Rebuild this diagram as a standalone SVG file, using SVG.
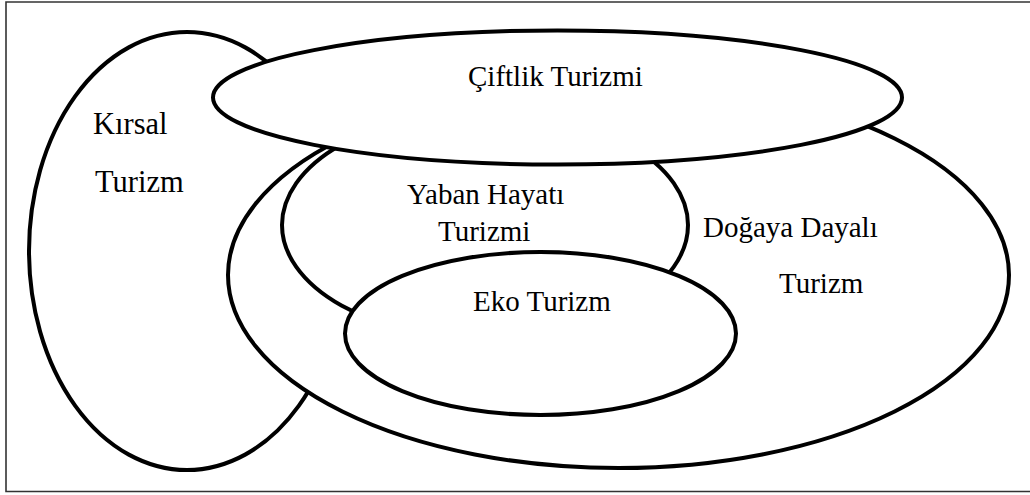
<svg xmlns="http://www.w3.org/2000/svg" width="1030" height="495" viewBox="0 0 1030 495">
<style>
.e{fill:#fff;stroke:#000;stroke-width:4}
.t{font-family:"Liberation Serif","Times New Roman",serif;font-size:29px;fill:#000}
.k{font-size:30.5px}
</style>
<rect width="1030" height="495" fill="#fff"/>
<path d="M1030,2 H6 V491.5 H1030" fill="none" stroke="#333" stroke-width="1.6"/>
<g id="kirsal">
<ellipse class="e" cx="187" cy="251" rx="158" ry="219"/>
<text class="t k" x="93" y="134">Kırsal</text>
<text class="t k" x="95" y="192">Turizm</text>
</g>
<g id="dogaya">
<ellipse class="e" cx="618.5" cy="275" rx="390.5" ry="193"/>
<text class="t" x="703" y="237">Doğaya Dayalı</text>
<text class="t" x="779" y="293">Turizm</text>
</g>
<g id="yaban">
<ellipse class="e" cx="485" cy="225" rx="203" ry="114"/>
<text class="t" x="407" y="204">Yaban Hayatı</text>
<text class="t" x="438" y="241">Turizmi</text>
</g>
<g id="eko">
<ellipse class="e" cx="540.5" cy="333.5" rx="195.5" ry="81.5"/>
<text class="t" x="473" y="311">Eko Turizm</text>
</g>
<g id="ciftlik">
<ellipse class="e" cx="557.5" cy="97.5" rx="344.5" ry="67"/>
<text class="t" x="468" y="86">Çiftlik Turizmi</text>
</g>
<g id="connectors"></g>
</svg>
